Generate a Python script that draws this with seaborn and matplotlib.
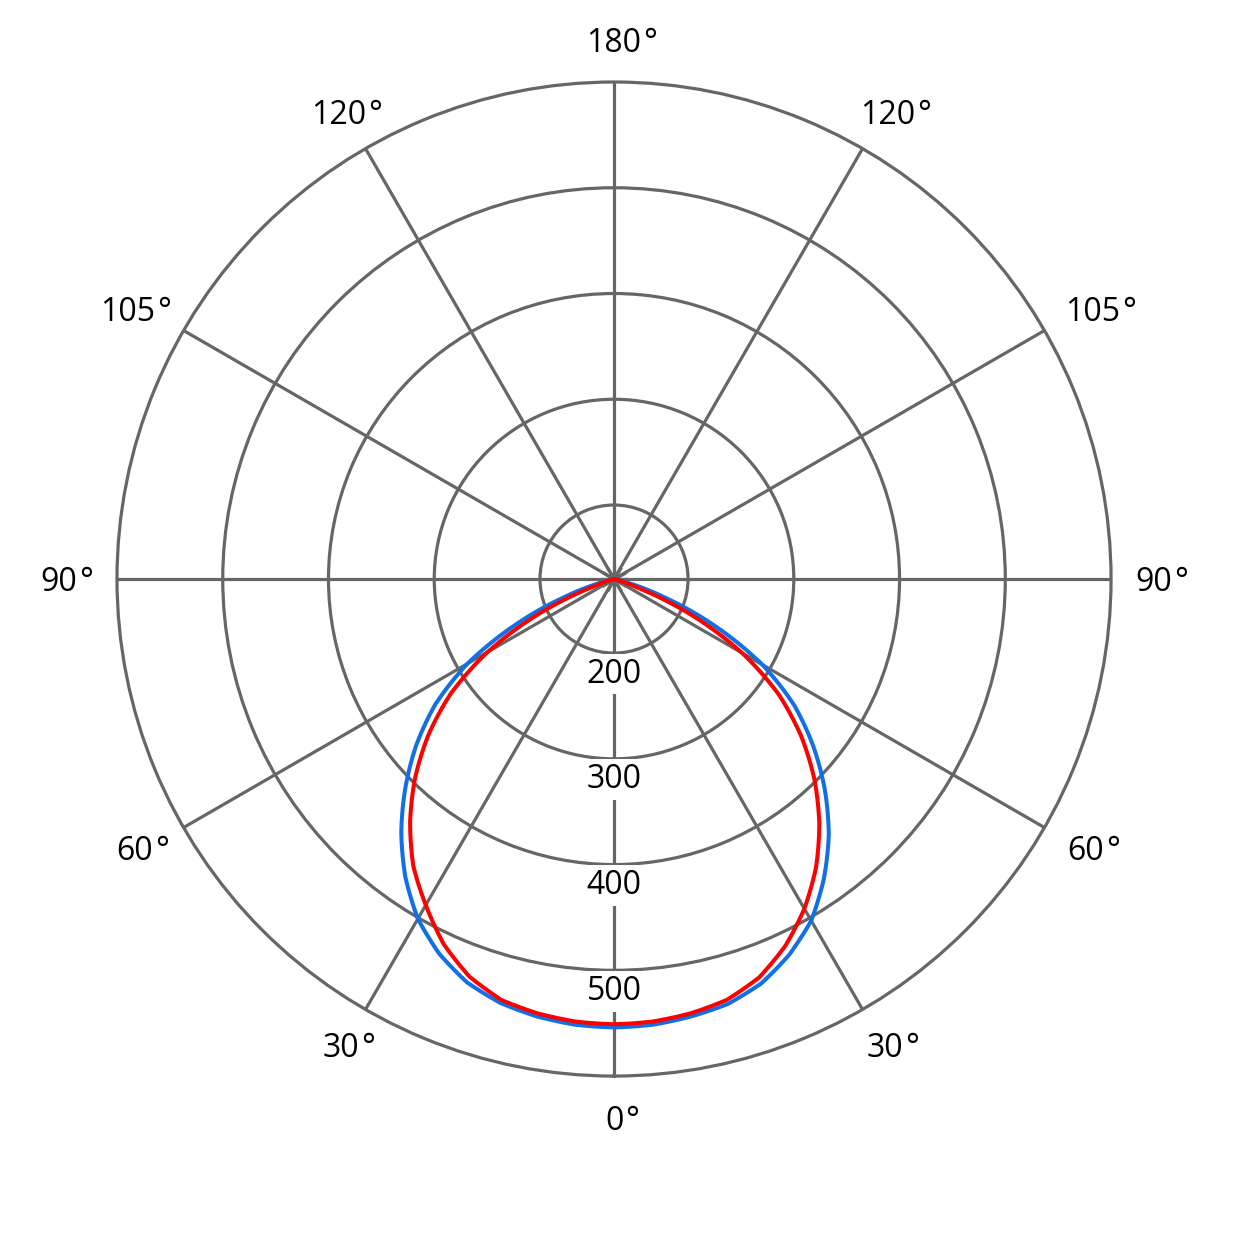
import numpy as np
import matplotlib
matplotlib.use('Agg')
import matplotlib.pyplot as plt
import seaborn as sns

# luminous intensity (0 deg = straight down)
angles_deg = [-90, -85, -80, -75, -70, -65, -60, -55, -50, -45, -40, -35, -30, -25, -20, -15, -10, -5,
              0, 5, 10, 15, 20, 25, 30, 35, 40, 45, 50, 55, 60, 65, 70, 75, 80, 85, 90]
blue_cd = [130, 130, 130, 140, 180, 234, 290, 336, 374, 409, 443, 474, 501, 521, 536, 545, 550, 553,
           554, 553, 550, 546, 537, 522, 503, 476, 446, 412, 376, 338, 292, 236, 181, 141, 130, 130, 130]
red_cd = [130, 130, 130, 130, 150, 210, 268, 318, 359, 396, 430, 461, 486, 511, 530, 542, 547, 550,
          551, 550, 547, 542, 531, 513, 490, 463, 432, 398, 361, 320, 270, 212, 152, 130, 130, 130, 130]

ring_values = [200, 300, 400, 500]
spoke_deg = [0, 30, 60, 90, 120, 150, 180, 210, 240, 270, 300, 330]
spoke_labels = ['0', '30', '60', '90', '105', '120', '180', '120', '105', '90', '60', '30']

sns.set_theme(style='white')
plt.rcParams['font.family'] = ['Open Sans', 'DejaVu Sans']

grid_col = '#666666'
fs = 23
fw = 'medium'

fig = plt.figure(figsize=(12.54, 12.54), dpi=100, facecolor='white')
ax = fig.add_axes([0.0933, 0.1419, 0.7927, 0.7927], projection='polar')
ax.set_facecolor('white')

th = np.radians(angles_deg)
sns.lineplot(x=th, y=blue_cd, ax=ax, color='#1170e8', linewidth=2.9, sort=False, zorder=3)
sns.lineplot(x=th, y=red_cd, ax=ax, color='#ff0000', linewidth=2.9, sort=False, zorder=4)
# draw the segments as polar arcs instead of straight chords
for ln in ax.lines:
    ln.get_path()._interpolation_steps = 16

ax.set_theta_zero_location('S')
ax.set_theta_direction(1)
ax.set_ylim(130, 600)
ax.set_xticks(np.radians(spoke_deg))
ax.set_yticks(ring_values)
ax.set_xticklabels([])
ax.set_yticklabels([])
ax.set_xlabel('')
ax.set_ylabel('')
ax.grid(True, color=grid_col, linewidth=2.3)
ax.set_axisbelow(True)
ax.spines['polar'].set_color(grid_col)
ax.spines['polar'].set_linewidth(2.3)
ax.tick_params(axis='x', bottom=True, direction='out', length=10, width=2.3, color=grid_col)
ax.tick_params(axis='y', left=False)

# intensity labels along the 0 deg spoke
for v in ring_values:
    ax.annotate(str(v), xy=(0, v), xytext=(0, -21), textcoords='offset pixels',
                ha='center', va='center', fontsize=fs, fontweight=fw, color='black', zorder=6,
                bbox=dict(boxstyle='square,pad=0.12', fc='white', ec='none'),
                annotation_clip=False)

# angle labels outside the outer ring: number plus trailing degree sign
angle_txt = []
for deg, lab in zip(spoke_deg, spoke_labels):
    t = np.radians(deg)
    num = ax.annotate(lab, xy=(t, 600), xytext=(0, 0), textcoords='offset pixels',
                      ha='center', va='center', fontsize=fs, fontweight=fw, color='black',
                      annotation_clip=False)
    sign = ax.annotate('°', xy=(1, 0), xycoords=num, xytext=(2, 0), textcoords='offset pixels',
                       ha='left', va='bottom', fontsize=fs, fontweight=fw, color='black',
                       annotation_clip=False)
    angle_txt.append((t, num, sign))

fig.canvas.draw()
rend = fig.canvas.get_renderer()
gap, half_h = 24, 11
for t, num, sign in angle_txt:
    s, c = np.sin(t), np.cos(t)
    w_num = num.get_window_extent(rend).width
    w_deg = sign.get_window_extent(rend).width + 2
    half_w = (w_num + w_deg) / 2
    ox = (gap + half_w * abs(s) + half_h * abs(c)) * s + 8 * abs(c) - w_deg / 2
    oy = -(3 + 42 * c)
    num.xyann = (ox, oy)

fig.savefig('out.png', dpi=100, facecolor='white')
